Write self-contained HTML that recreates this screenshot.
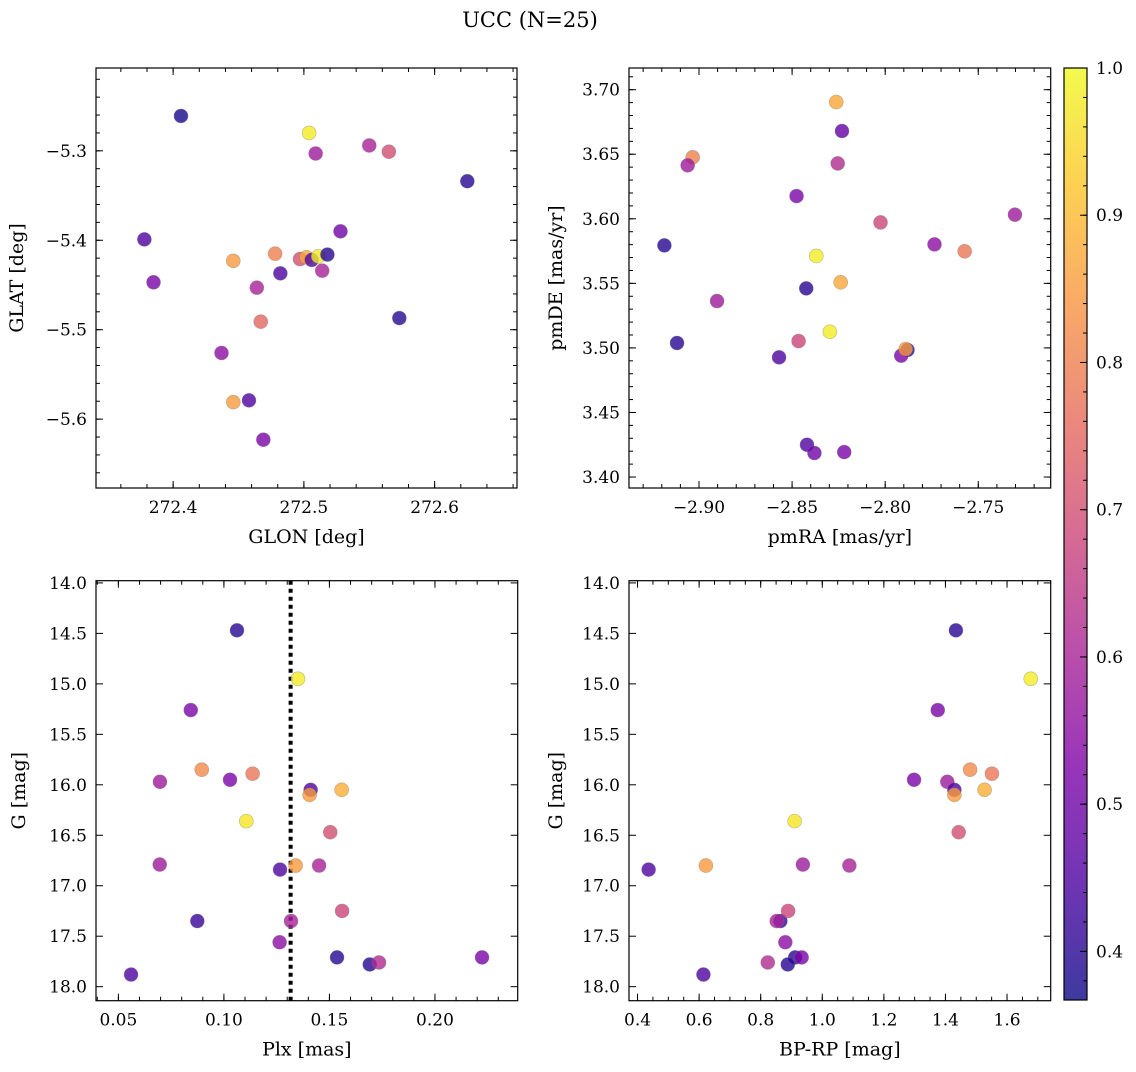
<!DOCTYPE html>
<html><head><meta charset="utf-8"><style>
html,body{margin:0;padding:0;background:#fff;}
svg text{font-family:"DejaVu Serif","Liberation Serif",serif;fill:#000;}
</style></head><body>
<svg id="fig" width="1136" height="1067" viewBox="0 0 1136 1067" xmlns="http://www.w3.org/2000/svg">
<defs>
<linearGradient id="plasma" x1="0" y1="1" x2="0" y2="0">
<stop offset="0" stop-color="#0d0887"/><stop offset="0.125" stop-color="#4c02a1"/><stop offset="0.25" stop-color="#7e03a8"/><stop offset="0.375" stop-color="#a92395"/><stop offset="0.5" stop-color="#cc4778"/><stop offset="0.625" stop-color="#e66c5c"/><stop offset="0.75" stop-color="#f89540"/><stop offset="0.875" stop-color="#fdc527"/><stop offset="1" stop-color="#f0f921"/>
</linearGradient>
</defs>
<text x="530" y="27" font-size="21" text-anchor="middle">UCC (N=25)</text>
</svg>
<script>
// ---- data ----
const tlGlon = [272.406,272.504,272.509,272.550,272.565,272.625,272.378,272.385,272.446,272.478,272.482,272.464,272.467,272.497,272.502,272.506,272.511,272.514,272.518,272.528,272.573,272.437,272.446,272.458,272.469];
const tlGlat = [-5.261,-5.280,-5.303,-5.294,-5.301,-5.334,-5.399,-5.447,-5.423,-5.415,-5.437,-5.453,-5.491,-5.421,-5.419,-5.422,-5.418,-5.434,-5.416,-5.390,-5.487,-5.526,-5.581,-5.579,-5.623];
const tlProb = [0.38,0.98,0.58,0.60,0.70,0.40,0.45,0.52,0.85,0.80,0.45,0.60,0.75,0.70,0.87,0.45,0.98,0.60,0.40,0.50,0.40,0.55,0.85,0.45,0.52];
const trPmra = [-2.8263,-2.8232,-2.9034,-2.9061,-2.8255,-2.8476,-2.8025,-2.7303,-2.9186,-2.7735,-2.7573,-2.837,-2.8239,-2.8424,-2.8903,-2.8297,-2.9118,-2.8465,-2.857,-2.788,-2.7914,-2.789,-2.842,-2.838,-2.822];
const trPmde = [3.6904,3.668,3.6476,3.6414,3.6429,3.6176,3.5972,3.6032,3.5794,3.5802,3.5748,3.5712,3.5508,3.5461,3.5363,3.5125,3.5038,3.5053,3.4927,3.4984,3.494,3.4991,3.425,3.4186,3.4193];
const trProb = [0.87,0.48,0.80,0.58,0.62,0.52,0.68,0.58,0.40,0.55,0.78,0.98,0.87,0.40,0.58,0.98,0.40,0.68,0.45,0.40,0.52,0.85,0.45,0.50,0.52];
const plx = [0.1062,0.1351,0.0843,0.0895,0.0697,0.1029,0.1136,0.1411,0.1406,0.1558,0.1106,0.1504,0.0696,0.1266,0.1340,0.1451,0.0874,0.1318,0.1560,0.1264,0.1536,0.1691,0.1735,0.2223,0.056];
const bprp = [1.434,1.677,1.375,1.480,1.406,1.298,1.551,1.429,1.429,1.527,0.910,1.443,0.937,0.436,0.622,1.088,0.864,0.852,0.889,0.880,0.912,0.888,0.823,0.933,0.614];
const gmag = [14.47,14.95,15.26,15.85,15.97,15.95,15.89,16.05,16.10,16.05,16.36,16.47,16.79,16.84,16.80,16.80,17.35,17.35,17.25,17.56,17.71,17.78,17.76,17.71,17.88];
const botProb = [0.40,0.98,0.52,0.82,0.58,0.52,0.78,0.45,0.85,0.88,0.97,0.70,0.58,0.45,0.85,0.60,0.42,0.60,0.68,0.55,0.40,0.40,0.62,0.52,0.45];
const plxMedian = 0.1316;
const cbTicks = [0.4,0.5,0.6,0.7,0.8,0.9,1.0];
const vmin = 0.367, vmax = 1.0;

const NS = "http://www.w3.org/2000/svg";
const svg = document.getElementById('fig');
function mk(tag, attrs, parent){const e=document.createElementNS(NS,tag);for(const k in attrs)e.setAttribute(k,attrs[k]);(parent||svg).appendChild(e);return e;}
const stops=[[0,[13,8,135]],[0.125,[76,2,161]],[0.25,[126,3,168]],[0.375,[169,35,149]],[0.5,[204,71,120]],[0.625,[230,108,92]],[0.75,[248,149,64]],[0.875,[253,197,39]],[1,[240,249,33]]];
function plasma(t){t=Math.max(0,Math.min(1,t));for(let i=1;i<stops.length;i++){if(t<=stops[i][0]){const a=stops[i-1],b=stops[i];const f=(t-a[0])/(b[0]-a[0]);return 'rgb('+[0,1,2].map(j=>Math.round(a[1][j]+f*(b[1][j]-a[1][j]))).join(',')+')';}}return 'rgb(240,249,33)';}
function fmt(v,d){const s=Math.abs(v).toFixed(d);return (v<-1e-9?'\u2212':'')+s;}
const TFS=17, LFS=19;

function panel(o){
  const g=mk('g',{});
  
  
  const X=v=>o.x0+(v-o.xmin)/(o.xmax-o.xmin)*(o.x1-o.x0);
  const Y=v=>o.y1-(v-o.ymin)/(o.ymax-o.ymin)*(o.y1-o.y0);
  const tk=(pos,len,isX)=>{
    if(isX){mk('line',{x1:pos,x2:pos,y1:o.y1,y2:o.y1-len,stroke:'#000','stroke-width':1},g);mk('line',{x1:pos,x2:pos,y1:o.y0,y2:o.y0+len,stroke:'#000','stroke-width':1},g);}
    else{mk('line',{x1:o.x0,x2:o.x0+len,y1:pos,y2:pos,stroke:'#000','stroke-width':1},g);mk('line',{x1:o.x1,x2:o.x1-len,y1:pos,y2:pos,stroke:'#000','stroke-width':1},g);}
  };
  const eps=1e-9;
  for(let v=Math.ceil(o.xmin/o.xmn-eps)*o.xmn; v<=o.xmax+eps; v+=o.xmn) tk(X(v),4,true);
  for(let v=Math.ceil(o.ymin/o.ymn-eps)*o.ymn; v<=o.ymax+eps; v+=o.ymn) tk(Y(v),4,false);
  for(const v of o.xt){tk(X(v),7,true);const t=mk('text',{x:X(v),y:o.y1+25,'font-size':TFS,'text-anchor':'middle'},g);t.textContent=fmt(v,o.xd);}
  for(const v of o.yt){tk(Y(v),7,false);const t=mk('text',{x:o.x0-9,y:Y(v)+6,'font-size':TFS,'text-anchor':'end'},g);t.textContent=fmt(v,o.yd);}
  const xl=mk('text',{x:(o.x0+o.x1)/2,y:o.y1+55,'font-size':LFS,'text-anchor':'middle'},g);xl.textContent=o.xlabel;
  
  
  const yx=o.ylx, yy=(o.y0+o.y1)/2;
  const yl=mk('text',{x:yx,y:yy,'font-size':LFS,'text-anchor':'middle',transform:'rotate(-90 '+yx+' '+yy+')'},g);yl.textContent=o.ylabel;
  
  
  if(o.vline!==undefined){
    const l=mk('line',{x1:X(o.vline),x2:X(o.vline),y1:o.y0,y2:o.y1,stroke:'#000','stroke-width':4,'stroke-dasharray':'4 4'},g);
    
    
  }
  for(let i=0;i<o.xs.length;i++){
    const c=mk('circle',{cx:X(o.xs[i]),cy:Y(o.ys[i]),r:7,fill:plasma((o.cs[i]-vmin)/(vmax-vmin)),'fill-opacity':0.8,stroke:'#777','stroke-opacity':0.5,'stroke-width':0.6},g);
    
    
  }
  const f=mk('rect',{x:o.x0,y:o.y0,width:o.x1-o.x0,height:o.y1-o.y0,fill:'none',stroke:'#000','stroke-width':1.2},g);
  
  
}
panel({name:'glon-glat-panel',x0:96,x1:517,y0:68,y1:488,xmin:272.341,xmax:272.663,ymin:-5.677,ymax:-5.2074,xt:[272.4,272.5,272.6],yt:[-5.6,-5.5,-5.4,-5.3],xmn:0.02,ymn:0.02,xd:1,yd:1,xlabel:'GLON [deg]',ylabel:'GLAT [deg]',ylx:23,xs:tlGlon,ys:tlGlat,cs:tlProb});
panel({name:'pm-panel',x0:629,x1:1050.7,y0:68,y1:488,xmin:-2.9376,xmax:-2.7111,ymin:3.3915,ymax:3.7168,xt:[-2.90,-2.85,-2.80,-2.75],yt:[3.40,3.45,3.50,3.55,3.60,3.65,3.70],xmn:0.01,ymn:0.01,xd:2,yd:2,xlabel:'pmRA [mas/yr]',ylabel:'pmDE [mas/yr]',ylx:562,xs:trPmra,ys:trPmde,cs:trProb});
panel({name:'plx-g-panel',x0:96,x1:517.7,y0:580.7,y1:1000.7,xmin:0.0394,xmax:0.2392,ymin:18.139,ymax:13.978,xt:[0.05,0.10,0.15,0.20],yt:[14.0,14.5,15.0,15.5,16.0,16.5,17.0,17.5,18.0],xmn:0.01,ymn:0.1,xd:2,yd:1,xlabel:'Plx [mas]',ylabel:'G [mag]',ylx:25,xs:plx,ys:gmag,cs:botProb,vline:plxMedian});
panel({name:'cmd-panel',x0:629,x1:1050.7,y0:580.7,y1:1000.7,xmin:0.3723,xmax:1.7418,ymin:18.139,ymax:13.978,xt:[0.4,0.6,0.8,1.0,1.2,1.4,1.6],yt:[14.0,14.5,15.0,15.5,16.0,16.5,17.0,17.5,18.0],xmn:0.05,ymn:0.1,xd:1,yd:1,xlabel:'BP-RP [mag]',ylabel:'G [mag]',ylx:562,xs:bprp,ys:gmag,cs:botProb});

// colorbar
const cb=mk('g',{});


const cx0=1064,cx1=1087,cy0=68,cy1=1000;
const CY=v=>cy1-(v-vmin)/(vmax-vmin)*(cy1-cy0);
mk('rect',{x:cx0,y:cy0,width:cx1-cx0,height:cy1-cy0,fill:'url(#plasma)','fill-opacity':0.8},cb);
for(let v=0.38;v<=1.0001;v+=0.02){mk('line',{x1:cx1,x2:cx1-4,y1:CY(v),y2:CY(v),stroke:'#000','stroke-width':1},cb);}
for(const v of cbTicks){mk('line',{x1:cx1,x2:cx1-7,y1:CY(v),y2:CY(v),stroke:'#000','stroke-width':1},cb);
  const t=mk('text',{x:cx1+9,y:CY(v)+6,'font-size':TFS},cb);t.textContent=v.toFixed(1);
  
  }
mk('rect',{x:cx0,y:cy0,width:cx1-cx0,height:cy1-cy0,fill:'none',stroke:'#000','stroke-width':1.2},cb);
</script>
</body></html>
